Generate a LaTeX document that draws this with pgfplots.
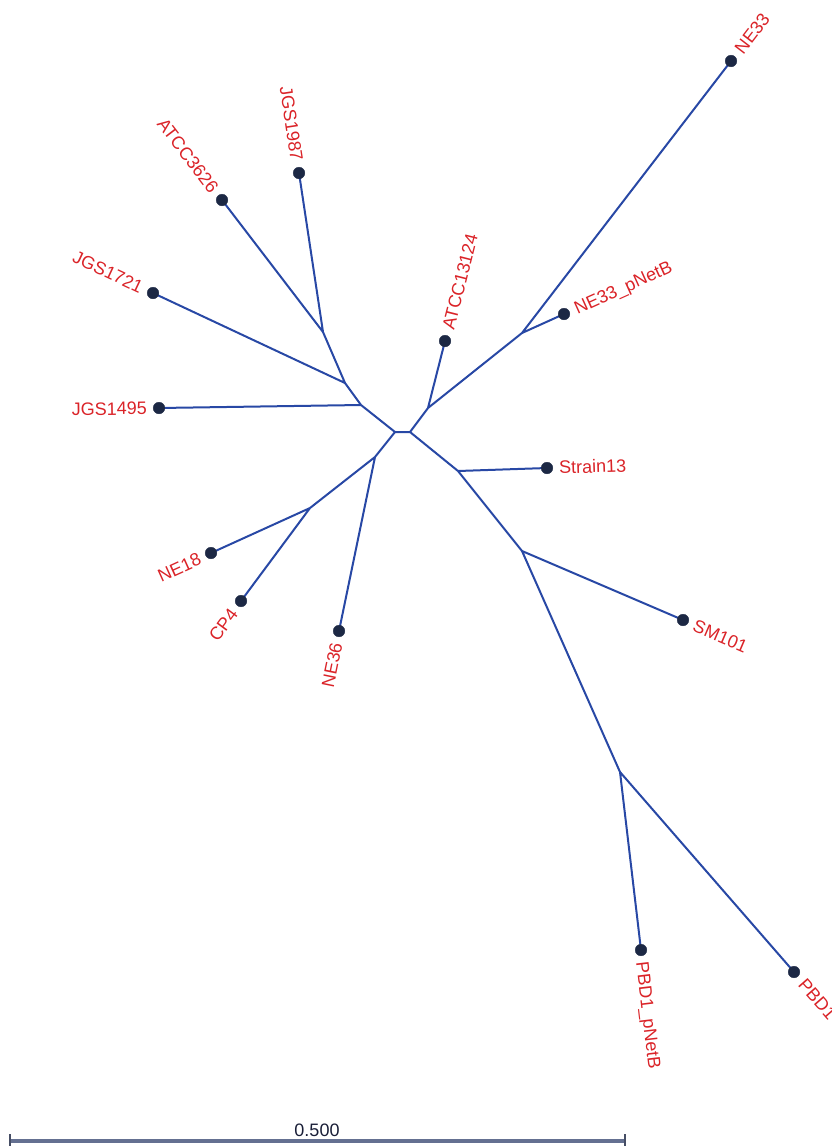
\documentclass[border=0pt]{standalone}
\usepackage{pgfplots}
\usepackage{pgfplotstable}
\pgfplotsset{compat=1.18}
\usepackage{fontspec}
\setmainfont{Liberation Sans}

\definecolor{branch}{RGB}{40,72,165}
\definecolor{tipdot}{RGB}{28,40,68}
\definecolor{tiplab}{RGB}{218,35,40}
\definecolor{scalebar}{RGB}{100,112,145}
\definecolor{scaletext}{RGB}{25,30,55}

% Branches of the unrooted tree, as polylines (nan rows break the line)
\pgfplotstableread{
x y
299 173
323 332
345 383
361 405
395 432
375 457
310 508
241 601
nan nan
222 200
323 332
nan nan
153 293
345 383
nan nan
159 408
361 405
nan nan
339 631
375 457
nan nan
211 553
310 508
nan nan
395 432
410 432
428 408
522 333
731 61
nan nan
445 341
428 408
nan nan
564 314
522 333
nan nan
410 432
458 471
522 551
620 772
794 972
nan nan
547 468
458 471
nan nan
683 620
522 551
nan nan
641 950
620 772
}\branches

% Tips whose labels lie to the left of the tip (text ends at the dot)
\pgfplotstableread{
x y rot lab
299 173 -81.4 JGS1987
222 200 -52.6 ATCC3626
153 293 -25.1 JGS1721
159 408 0.8 JGS1495
211 553 24.4 NE18
241 601 53.4 CP4
339 631 78.3 NE36
}\lefttips

% Tips whose labels lie to the right of the tip (text starts at the dot)
\pgfplotstableread{
x y rot lab
445 341 75.8 ATCC13124
731 61 52.5 NE33
564 314 24.3 NE33\_pNetB
547 468 1.9 Strain13
683 620 -23.2 SM101
641 950 -83.3 PBD1\_pNetB
794 972 -49.0 PBD1
}\righttips

\begin{document}
\begin{tikzpicture}
\useasboundingbox (0,0) rectangle (832pt,1146pt);
\clip (0,0) rectangle (832pt,1146pt);
\begin{axis}[
  at={(0,0)}, anchor=south west,
  scale only axis, width=832pt, height=1146pt,
  xmin=0, xmax=832, ymin=0, ymax=1146,
  y dir=reverse,
  hide axis, clip=false,
  unbounded coords=jump,
]
% branches
\addplot[branch, line width=2pt, line join=round, line cap=round, mark=none]
  table[x=x, y=y] {\branches};

% left-side tips
\addplot[only marks, mark=*, mark size=5.8pt, mark options={fill=tipdot, draw=tipdot},
  point meta=explicit symbolic,
  visualization depends on={\thisrow{rot} \as \rot},
  nodes near coords={\pgfplotspointmeta},
  every node near coord/.style={anchor=east, rotate=\rot, inner xsep=12pt, inner ysep=0pt,
    text height=12.6pt, text depth=0pt, text=tiplab, font=\fontsize{18}{20}\selectfont},
] table[x=x, y=y, meta=lab] {\lefttips};

% right-side tips
\addplot[only marks, mark=*, mark size=5.8pt, mark options={fill=tipdot, draw=tipdot},
  point meta=explicit symbolic,
  visualization depends on={\thisrow{rot} \as \rot},
  nodes near coords={\pgfplotspointmeta},
  every node near coord/.style={anchor=west, rotate=\rot, inner xsep=12pt, inner ysep=0pt,
    text height=12.6pt, text depth=0pt, text=tiplab, font=\fontsize{18}{20}\selectfont},
] table[x=x, y=y, meta=lab] {\righttips};

% scale bar
\addplot[scalebar, line width=3.2pt, mark=none] coordinates {(10,1141) (625,1141)};
\addplot[scalebar!70!black, line width=2.2pt, mark=none] coordinates {(10,1134) (10,1146)};
\addplot[scalebar!70!black, line width=2.2pt, mark=none] coordinates {(625,1134) (625,1146)};
\node[anchor=base, text=scaletext, font=\fontsize{18}{20}\selectfont, inner sep=0pt]
  at (axis cs:317,1136) {0.500};
\end{axis}
\end{tikzpicture}
\end{document}
